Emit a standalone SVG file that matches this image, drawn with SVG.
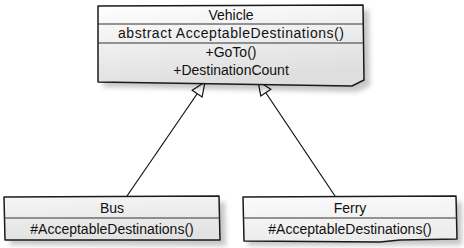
<svg xmlns="http://www.w3.org/2000/svg" width="464" height="248" viewBox="0 0 464 248">
  <style>
    .box { stroke: #1a1a1a; stroke-width: 1.5; stroke-linejoin: round; }
    .sep { stroke: #333; stroke-width: 1.2; fill: none; }
    .edge { stroke: #111; stroke-width: 1.2; fill: none; }
    .head { stroke: #111; stroke-width: 1.2; fill: #fff; stroke-linejoin: miter; }
    .shadow { fill: #000; opacity: 0.22; filter: url(#blur); }
    text { font-family: "Liberation Sans", "DejaVu Sans", sans-serif; font-size: 14px; fill: #111; text-anchor: middle; }
  </style>
  <defs>
    <filter id="blur" x="-10%" y="-10%" width="120%" height="130%">
      <feGaussianBlur stdDeviation="2.5"/>
    </filter>
    <linearGradient id="fillV" x1="0" y1="0" x2="0.3" y2="1">
      <stop offset="0" stop-color="#ffffff"/>
      <stop offset="1" stop-color="#dedede"/>
    </linearGradient>
    <linearGradient id="fillB" x1="0" y1="0" x2="0.2" y2="1">
      <stop offset="0" stop-color="#f6f6f6"/>
      <stop offset="1" stop-color="#e2e2e2"/>
    </linearGradient>
    <linearGradient id="fillF" x1="0" y1="0" x2="0.2" y2="1">
      <stop offset="0" stop-color="#fbfbfb"/>
      <stop offset="1" stop-color="#ececec"/>
    </linearGradient>
  </defs>

  <!-- generalisation connectors -->
  <g id="connectors">
    <path class="edge" d="M127 196 L197 94"/>
    <polygon class="head" points="205,82 192.2,90.2 202.1,97"/>
    <path class="edge" d="M335 196 L266 93"/>
    <polygon class="head" points="258,81 270.8,89.3 260.8,95.9"/>
  </g>

  <!-- abstract base class -->
  <g id="vehicle">
    <path class="shadow" d="M103 11 L369 10 L370 86 L357 92 L103 87 Z"/>
    <path class="box" fill="url(#fillV)" d="M98 6 L363 5 L364 80 L352 86 L98 82 Z"/>
    <path class="sep" d="M98 24 L363 24"/>
    <path class="sep" d="M98 43 L363 43"/>
    <text x="231" y="20">Vehicle</text>
    <text x="231" y="38" textLength="226" lengthAdjust="spacing">abstract AcceptableDestinations()</text>
    <text x="231" y="57">+GoTo()</text>
    <text x="231" y="75">+DestinationCount</text>
  </g>

  <!-- subclass Bus -->
  <g id="bus">
    <path class="shadow" d="M9 202 L225 202 L226 246 L10 245 Z"/>
    <path class="box" fill="url(#fillB)" d="M4 197 L219 196 L220 240 L5 240 Z"/>
    <path class="sep" d="M4 218 L220 218"/>
    <text x="112" y="213">Bus</text>
    <text x="112" y="234">#AcceptableDestinations()</text>
  </g>

  <!-- subclass Ferry -->
  <g id="ferry">
    <path class="shadow" d="M248 202 L462 202 L462 245 L248 246 Z"/>
    <path class="box" fill="url(#fillF)" d="M243 197 L456 196 L457 239 L400 240 L380 242 L244 241 Z"/>
    <path class="sep" d="M243 218 L457 218"/>
    <text x="350" y="213">Ferry</text>
    <text x="350" y="234">#AcceptableDestinations()</text>
  </g>
</svg>
